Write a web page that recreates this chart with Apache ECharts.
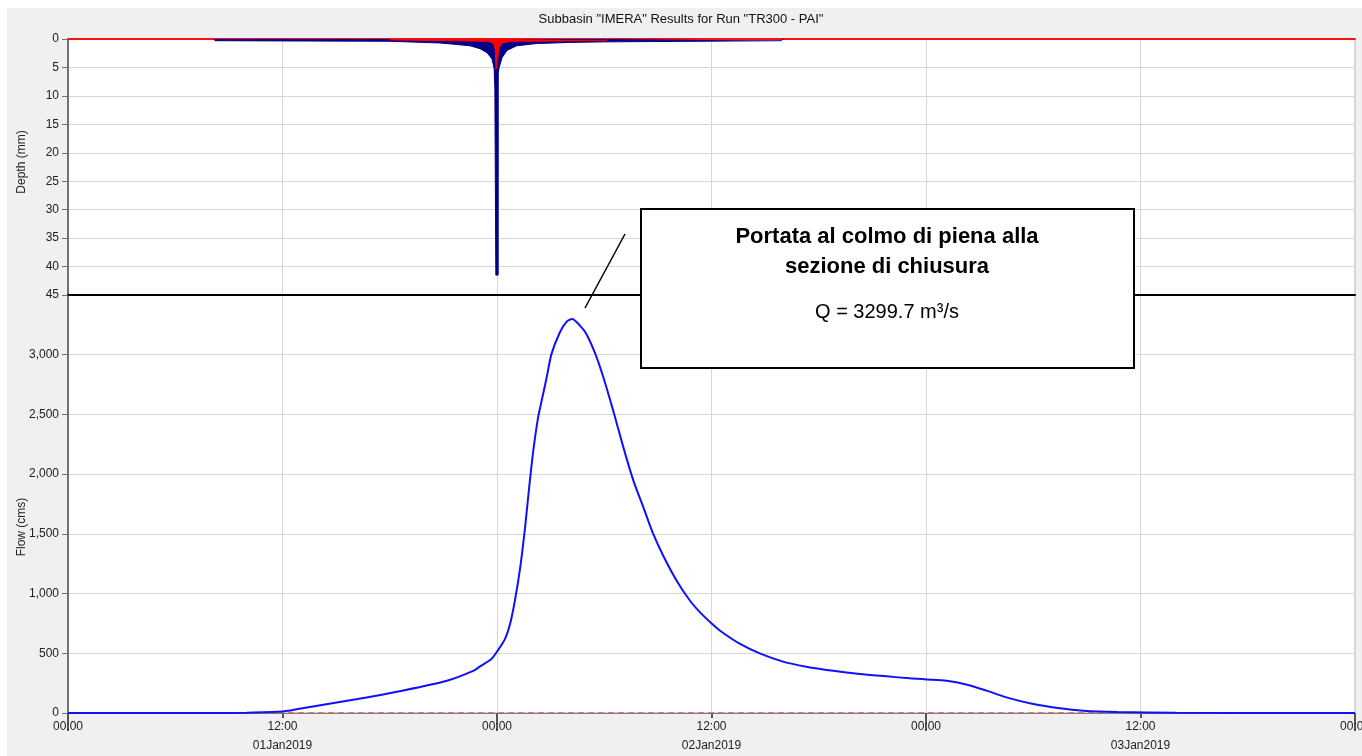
<!DOCTYPE html>
<html>
<head>
<meta charset="utf-8">
<script src="https://cdn.jsdelivr.net/npm/echarts@6/dist/echarts.min.js"></script>
<style>
  html, body { margin: 0; padding: 0; background: #fff; }
  #chart { width: 1362px; height: 756px; }
</style>
</head>
<body>
<div id="chart"></div>
<script>
// ore dall'inizio della simulazione (01Jan2019 00:00)
var precipHours = [8.2, 18.0, 18.1, 20.8, 21.5, 22.5, 23.05, 23.44, 23.72, 23.84, 23.88, 23.93, 23.935, 24.065, 24.07, 24.12, 24.28, 24.56, 25.1, 26.2, 28.1, 30.1, 30.2, 39.9, 40.0];
var precipDepth = [0.3, 0.4, 0.55, 0.7, 0.9, 1.2, 1.7, 2.4, 3.5, 5.2, 8.7, 8.7, 41.5, 41.5, 6.0, 5.0, 3.3, 2.0, 1.2, 0.8, 0.6, 0.5, 0.3, 0.3, 0];

var lossHours = [18.0, 18.1, 23.5, 23.8, 23.9, 23.95, 24.05, 24.12, 24.3, 24.8, 30.1, 30.2];
var lossDepth = [0.15, 0.3, 0.4, 0.8, 1.8, 5.3, 5.3, 1.5, 0.7, 0.4, 0.3, 0.1];

var flowHours = [0, 8, 10, 12, 13.7, 16.2, 18.7, 21.2, 22.7, 23.05, 23.7, 24.04, 24.45, 24.73, 25.0, 25.3, 25.57, 25.8, 26.03, 26.3, 26.5, 26.78, 27.05, 27.52, 27.9, 28.2, 28.64, 29.0, 29.5, 29.95, 30.5, 31.07, 31.63, 32.19, 32.74, 33.3, 34.05, 34.8, 35.36, 36.04, 36.48, 37.6, 38.7, 40.0, 41.3, 42.8, 44.3, 45.8, 47.1, 48.04, 49.15, 50.3, 51.4, 52.5, 54.0, 55.5, 56.8, 58.7, 62, 72];
var flowValues = [0, 0, 3, 12, 55, 117, 187, 270, 355, 390, 455, 522, 620, 745, 940, 1220, 1555, 1890, 2197, 2476, 2616, 2811, 3007, 3188, 3277, 3299.7, 3244, 3174, 3007, 2811, 2532, 2224, 1946, 1722, 1499, 1317, 1108, 940, 843, 745, 689, 578, 499, 430, 388, 354, 327, 307, 290, 281, 270, 237, 187, 131, 75, 39, 19, 8, 2, 0];

var baseHours = [0, 72];
var baseValues = [0, 0];

var dayLabels = ['01Jan2019', '02Jan2019', '03Jan2019'];
var depthTicks = [0, 45, 5];
var flowTicks = [0, 3500, 500];

function pairs(xs, ys) {
    return xs.map(function (x, i) { return [x, ys[i]]; });
}

var chart = echarts.init(document.getElementById('chart'));

var gridLine = { show: true, lineStyle: { color: '#d6d6d6', width: 1 } };
var tickFont = { color: '#222', fontSize: 12, fontFamily: 'Liberation Sans, Arial, sans-serif' };

option = {
    backgroundColor: '#fff',
    animation: false,
    title: {
        text: 'Subbasin "IMERA" Results for Run "TR300 - PAI"',
        left: 'center',
        top: 8,
        textStyle: { fontSize: 13, fontWeight: 'normal', color: '#111', fontFamily: 'Liberation Sans, Arial, sans-serif' }
    },
    grid: [
        { left: 68, top: 39, right: 7, height: 256, outerBoundsMode: 'none', containLabel: false, show: true, backgroundColor: '#fff', borderColor: '#a8a8a8', borderWidth: 1 },
        { left: 68, top: 295, right: 7, height: 418, outerBoundsMode: 'none', containLabel: false, show: true, backgroundColor: '#fff', borderColor: '#a8a8a8', borderWidth: 1 }
    ],
    xAxis: [
        // pioggia: asse in alto (linea rossa)
        {
            gridIndex: 0, type: 'value', min: 0, max: 72, interval: 12, position: 'top',
            axisLine: { show: true, lineStyle: { color: '#ff1010', width: 2 } },
            axisTick: { show: false }, axisLabel: { show: false },
            splitLine: gridLine
        },
        // separatore nero
        {
            gridIndex: 0, type: 'value', min: 0, max: 72, position: 'bottom',
            axisLine: { show: true, onZero: false, lineStyle: { color: '#000', width: 2 } },
            axisTick: { show: false }, axisLabel: { show: false }, splitLine: { show: false }
        },
        // portata: ore
        {
            gridIndex: 1, type: 'value', min: 0, max: 72, interval: 12,
            axisLine: { show: true, onZero: false, lineStyle: { color: '#777', width: 1 } },
            axisTick: { show: true, length: 5, lineStyle: { color: '#555', width: 2 } },
            axisLabel: Object.assign({ margin: 8, formatter: function (v) { return (v % 24 === 0) ? '00:00' : '12:00'; } }, tickFont),
            splitLine: gridLine
        },
        // giorni
        {
            gridIndex: 1, type: 'category', data: dayLabels, position: 'bottom', offset: 25,
            axisLine: { show: false },
            axisTick: { show: true, length: 18, lineStyle: { color: '#555', width: 2 } },
            axisLabel: Object.assign({ margin: 2 }, tickFont),
            splitLine: { show: false }
        }
    ],
    yAxis: [
        {
            gridIndex: 0, type: 'value', inverse: true,
            min: depthTicks[0], max: depthTicks[1], interval: depthTicks[2],
            name: 'Depth (mm)', nameLocation: 'middle', nameGap: 40, nameMoveOverlap: false,
            nameTextStyle: { color: '#222', fontSize: 12, fontFamily: 'Liberation Sans, Arial, sans-serif', padding: [0, 0, 0, 10] },
            axisLine: { show: true, lineStyle: { color: '#707070', width: 2 } },
            axisTick: { show: true, length: 6, lineStyle: { color: '#707070' } },
            axisLabel: Object.assign({ margin: 9 }, tickFont),
            splitLine: gridLine
        },
        {
            gridIndex: 1, type: 'value',
            min: flowTicks[0], max: flowTicks[1], interval: flowTicks[2],
            name: 'Flow (cms)', nameLocation: 'middle', nameGap: 40, nameMoveOverlap: false,
            nameTextStyle: { color: '#222', fontSize: 12, fontFamily: 'Liberation Sans, Arial, sans-serif', padding: [0, 46, 0, 0] },
            axisLine: { show: true, lineStyle: { color: '#707070', width: 2 } },
            axisTick: { show: true, length: 6, lineStyle: { color: '#707070' } },
            axisLabel: Object.assign({ margin: 9, showMaxLabel: false, formatter: function (v) { return v.toLocaleString('en-US'); } }, tickFont),
            splitLine: gridLine
        }
    ],
    series: [
        {
            name: 'Precipitazione',
            type: 'line', xAxisIndex: 0, yAxisIndex: 0,
            data: pairs(precipHours, precipDepth),
            showSymbol: false,
            lineStyle: { color: '#00008b', width: 1 },
            areaStyle: { color: '#00008b', opacity: 1 },
            z: 3
        },
        {
            name: 'Perdite',
            type: 'line', xAxisIndex: 0, yAxisIndex: 0,
            data: pairs(lossHours, lossDepth),
            showSymbol: false,
            lineStyle: { color: '#ff0000', width: 1 },
            areaStyle: { color: '#ff0000', opacity: 1 },
            z: 4
        },
        {
            name: 'Deflusso di base',
            type: 'line', xAxisIndex: 2, yAxisIndex: 1,
            data: pairs(baseHours, baseValues),
            showSymbol: false,
            lineStyle: { color: '#d06060', width: 1.5, type: [6, 4] },
            z: 3
        },
        {
            name: 'Portata',
            type: 'line', xAxisIndex: 2, yAxisIndex: 1,
            data: pairs(flowHours, flowValues),
            showSymbol: false,
            smooth: 0.25,
            lineStyle: { color: '#1010ff', width: 2 },
            z: 4
        }
    ],
    graphic: [
        // sfondo grigio della finestra
        { type: 'rect', shape: { x: 7, y: 8, width: 1355, height: 748 }, style: { fill: '#f0f0f0' }, z: -10, silent: true },
        // riquadro annotazione
        { type: 'line', shape: { x1: 585, y1: 308, x2: 625, y2: 234 }, style: { stroke: '#000', lineWidth: 1.5 }, z: 100 },
        { type: 'rect', shape: { x: 641, y: 209, width: 493, height: 159 }, style: { fill: '#fff', stroke: '#000', lineWidth: 2 }, z: 100 },
        {
            type: 'text', x: 887, y: 237, z: 101,
            style: { text: 'Portata al colmo di piena alla', fill: '#000', font: 'bold 22px "Liberation Sans", Arial, sans-serif', align: 'center', verticalAlign: 'middle' }
        },
        {
            type: 'text', x: 887, y: 267, z: 101,
            style: { text: 'sezione di chiusura', fill: '#000', font: 'bold 22px "Liberation Sans", Arial, sans-serif', align: 'center', verticalAlign: 'middle' }
        },
        {
            type: 'text', x: 887, y: 312, z: 101,
            style: { text: 'Q = 3299.7 m³/s', fill: '#000', font: '20px "Liberation Sans", Arial, sans-serif', align: 'center', verticalAlign: 'middle' }
        }
    ]
};

chart.setOption(option);
</script>
</body>
</html>
